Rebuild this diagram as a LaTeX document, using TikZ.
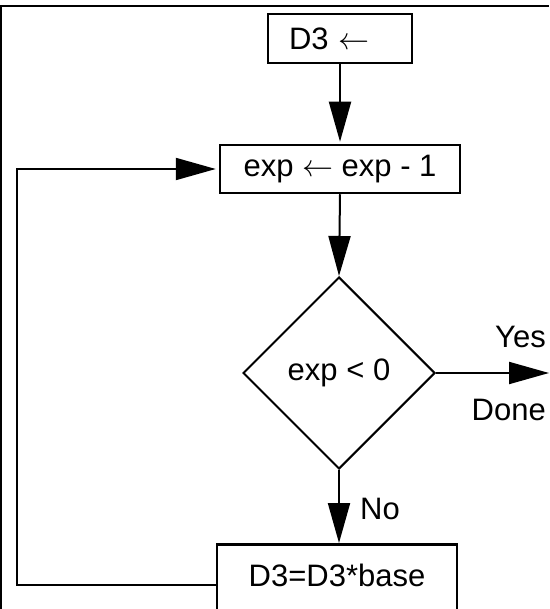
\documentclass[tikz,border=0pt]{standalone}
\usepackage{fix-cm}
\usepackage{fontspec}
\setmainfont{Liberation Sans}
\usetikzlibrary{arrows.meta,shapes.geometric}
\begin{document}
\begin{tikzpicture}[x=1pt,y=-1pt,
  font=\fontsize{31}{37}\selectfont,
  box/.style={draw,line width=2.5pt,inner sep=0pt,minimum height=48pt},
  arr/.style={line width=2pt,-{Triangle[length=40pt,width=22pt]}},
  lbl/.style={inner sep=0pt}]
\useasboundingbox (0,0) rectangle (549,609);
\clip (0,0) rectangle (549,609);
\draw[line width=2pt] (0,6) -- (549,6);
\draw[line width=1.5pt] (1,6) -- (1,609);
\node[box,minimum height=49pt,text width=102pt,align=left,inner xsep=21pt] (b1) at (340,38.5) {D3 $\leftarrow$};
\node[box,minimum width=240pt] (b2) at (340,169) {exp $\leftarrow$ exp - 1};
\node[draw,diamond,line width=2pt,minimum width=192pt,minimum height=192pt,inner sep=0pt] (d) at (339,373) {exp < 0};
\node[box,minimum width=240pt,minimum height=0pt,text height=42pt,text depth=40pt,anchor=north] (b4) at (337,543) {D3=D3*base};
\coordinate (out) at (549,373);
\coordinate (c2) at (17,169);
\draw[arr,shorten >=2pt] (b1.south) -- (b2.north);
\draw[arr] (b2.south) -- (d.north);
\draw[arr] (d.south) -- (d.south |- b4.north);
\draw[arr] (d.east) -- (out);
\draw[arr,shorten >=3pt] (b4.west) -| (c2) -- (b2.west);
\node[lbl,anchor=east] (yes) at (546,337) {Yes};
\node[lbl,anchor=east] (done) at (546,410) {Done};
\node[lbl,anchor=west] (no) at (360,509) {No};
\end{tikzpicture}
\end{document}
